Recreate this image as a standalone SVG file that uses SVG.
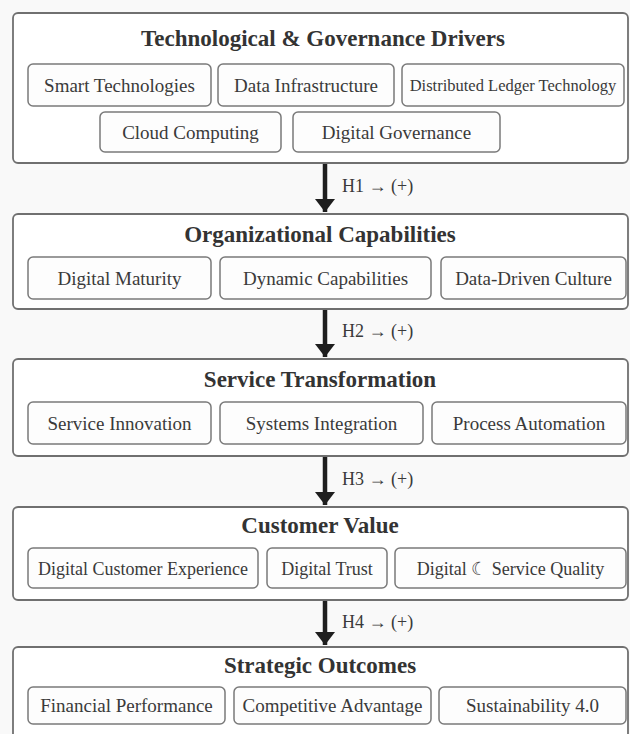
<svg xmlns="http://www.w3.org/2000/svg" width="630" height="734" viewBox="0 0 630 734">
  <style>
    .outer { fill: #ffffff; stroke: #707070; stroke-width: 1.8; }
    .inner { fill: #fdfdfd; stroke: #7a7a7a; stroke-width: 1.5; }
    .title { font-family: "Liberation Serif", "DejaVu Serif", serif; font-weight: bold; font-size: 23px; fill: #333333; text-anchor: middle; }
    .lbl { font-family: "Liberation Serif", "DejaVu Serif", serif; font-size: 19px; fill: #3a3a3a; text-anchor: middle; }
    .hyp { font-family: "Liberation Serif", "DejaVu Serif", serif; font-size: 18px; fill: #3a3a3a; }
    .arrow { stroke: #1e1e1e; stroke-width: 4.5; fill: none; }
  </style>
  <defs>
    <marker id="head" markerUnits="userSpaceOnUse" markerWidth="14" markerHeight="20" refX="13" refY="10" orient="auto" viewBox="0 0 14 20">
      <path d="M0,0 L13,10 L0,20 Z" fill="#1e1e1e"/>
    </marker>
  </defs>
  <rect x="0" y="0" width="630" height="734" fill="#f9f9f9"/>

  <g id="drivers">
    <rect class="outer" x="13" y="13" width="615" height="150" rx="5"/>
    <text class="title" x="323" y="45.5">Technological &amp; Governance Drivers</text>
    <g id="smart-tech"><rect class="inner" x="28" y="64" width="183" height="42" rx="5"/><text class="lbl" x="119.5" y="91.5">Smart Technologies</text></g>
    <g id="data-infra"><rect class="inner" x="218" y="64" width="176" height="42" rx="5"/><text class="lbl" x="306" y="91.5">Data Infrastructure</text></g>
    <g id="dlt"><rect class="inner" x="402" y="64" width="222" height="42" rx="5"/><text class="lbl" x="513" y="90.5" style="font-size:16.5px">Distributed Ledger Technology</text></g>
    <g id="cloud"><rect class="inner" x="100" y="112" width="181" height="40" rx="5"/><text class="lbl" x="190.5" y="138.5">Cloud Computing</text></g>
    <g id="dig-gov"><rect class="inner" x="293" y="112" width="207" height="40" rx="5"/><text class="lbl" x="396.5" y="138.5">Digital Governance</text></g>
  </g>

  <g id="org-capabilities">
    <rect class="outer" x="13" y="214" width="615" height="95" rx="5"/>
    <text class="title" x="320" y="242">Organizational Capabilities</text>
    <g id="dig-maturity"><rect class="inner" x="28" y="257" width="183" height="42" rx="5"/><text class="lbl" x="119.5" y="284.5">Digital Maturity</text></g>
    <g id="dyn-cap"><rect class="inner" x="220" y="257" width="211" height="42" rx="5"/><text class="lbl" x="325.5" y="284.5">Dynamic Capabilities</text></g>
    <g id="data-culture"><rect class="inner" x="441" y="257" width="185" height="42" rx="5"/><text class="lbl" x="533.5" y="284.5">Data-Driven Culture</text></g>
  </g>

  <g id="service-transformation">
    <rect class="outer" x="13" y="359" width="615" height="97" rx="5"/>
    <text class="title" x="320" y="387">Service Transformation</text>
    <g id="svc-innov"><rect class="inner" x="28" y="402" width="183" height="42" rx="5"/><text class="lbl" x="119.5" y="429.5">Service Innovation</text></g>
    <g id="sys-integ"><rect class="inner" x="220" y="402" width="203" height="42" rx="5"/><text class="lbl" x="321.5" y="429.5">Systems Integration</text></g>
    <g id="proc-auto"><rect class="inner" x="432" y="402" width="194" height="42" rx="5"/><text class="lbl" x="529" y="429.5">Process Automation</text></g>
  </g>

  <g id="customer-value">
    <rect class="outer" x="13" y="507" width="615" height="93" rx="5"/>
    <text class="title" x="320" y="533">Customer Value</text>
    <g id="dig-cx"><rect class="inner" x="28" y="548" width="230" height="40" rx="5"/><text class="lbl" x="143" y="574.5" style="font-size:18px">Digital Customer Experience</text></g>
    <g id="dig-trust"><rect class="inner" x="267" y="548" width="120" height="40" rx="5"/><text class="lbl" x="327" y="574.5" style="font-size:18px">Digital Trust</text></g>
    <g id="dig-sq"><rect class="inner" x="395" y="548" width="231" height="40" rx="5"/><text class="lbl" x="510.5" y="574.5" style="font-size:18px">Digital ☾  Service Quality</text></g>
  </g>

  <g id="strategic-outcomes">
    <rect class="outer" x="13" y="647" width="615" height="100" rx="5"/>
    <text class="title" x="320" y="673">Strategic Outcomes</text>
    <g id="fin-perf"><rect class="inner" x="28" y="687" width="197" height="37" rx="5"/><text class="lbl" x="126.5" y="712">Financial Performance</text></g>
    <g id="comp-adv"><rect class="inner" x="234" y="687" width="197" height="37" rx="5"/><text class="lbl" x="332.5" y="712">Competitive Advantage</text></g>
    <g id="sust"><rect class="inner" x="439" y="687" width="187" height="37" rx="5"/><text class="lbl" x="532.5" y="712">Sustainability 4.0</text></g>
  </g>

  <g id="connectors">
    <line class="arrow" x1="325" y1="164" x2="325" y2="212" marker-end="url(#head)"/>
    <text class="hyp" x="342" y="192">H1 → (+)</text>
    <line class="arrow" x1="325" y1="310" x2="325" y2="357" marker-end="url(#head)"/>
    <text class="hyp" x="342" y="337">H2 → (+)</text>
    <line class="arrow" x1="325" y1="457" x2="325" y2="505" marker-end="url(#head)"/>
    <text class="hyp" x="342" y="485">H3 → (+)</text>
    <line class="arrow" x1="325" y1="601" x2="325" y2="645" marker-end="url(#head)"/>
    <text class="hyp" x="342" y="628">H4 → (+)</text>
  </g>
</svg>
